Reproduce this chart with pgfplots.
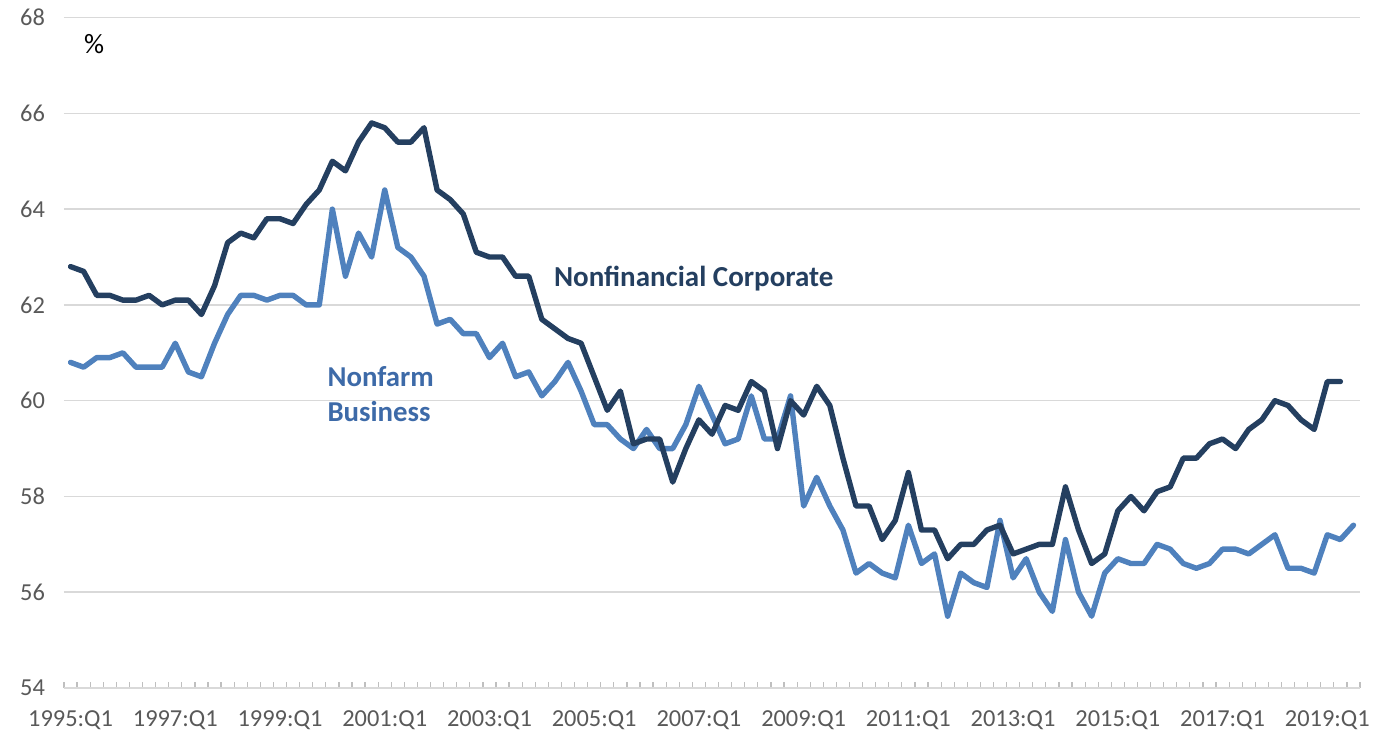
\documentclass[border=0pt]{standalone}
\usepackage{fontspec}
\setmainfont{Carlito}
\usepackage{pgfplots}
\usepackage{pgfplotstable}
\pgfplotsset{compat=1.18}

\definecolor{nfc}{HTML}{243F60}
\definecolor{nfb}{HTML}{4F81BD}
\definecolor{nfbtext}{HTML}{3D6AA8}
\definecolor{gridgray}{HTML}{D9D9D9}
\definecolor{tickgray}{HTML}{BFBFBF}
\definecolor{labelgray}{HTML}{595959}

% quarter index 0 = 1995:Q1
\pgfplotstableread{
q v
0 62.8
1 62.7
2 62.2
3 62.2
4 62.1
5 62.1
6 62.2
7 62.0
8 62.1
9 62.1
10 61.8
11 62.4
12 63.3
13 63.5
14 63.4
15 63.8
16 63.8
17 63.7
18 64.1
19 64.4
20 65.0
21 64.8
22 65.4
23 65.8
24 65.7
25 65.4
26 65.4
27 65.7
28 64.4
29 64.2
30 63.9
31 63.1
32 63.0
33 63.0
34 62.6
35 62.6
36 61.7
37 61.5
38 61.3
39 61.2
40 60.5
41 59.8
42 60.2
43 59.1
44 59.2
45 59.2
46 58.3
47 59.0
48 59.6
49 59.3
50 59.9
51 59.8
52 60.4
53 60.2
54 59.0
55 60.0
56 59.7
57 60.3
58 59.9
59 58.8
60 57.8
61 57.8
62 57.1
63 57.5
64 58.5
65 57.3
66 57.3
67 56.7
68 57.0
69 57.0
70 57.3
71 57.4
72 56.8
73 56.9
74 57.0
75 57.0
76 58.2
77 57.3
78 56.6
79 56.8
80 57.7
81 58.0
82 57.7
83 58.1
84 58.2
85 58.8
86 58.8
87 59.1
88 59.2
89 59.0
90 59.4
91 59.6
92 60.0
93 59.9
94 59.6
95 59.4
96 60.4
97 60.4
}\nfcdata

\pgfplotstableread{
q v
0 60.8
1 60.7
2 60.9
3 60.9
4 61.0
5 60.7
6 60.7
7 60.7
8 61.2
9 60.6
10 60.5
11 61.2
12 61.8
13 62.2
14 62.2
15 62.1
16 62.2
17 62.2
18 62.0
19 62.0
20 64.0
21 62.6
22 63.5
23 63.0
24 64.4
25 63.2
26 63.0
27 62.6
28 61.6
29 61.7
30 61.4
31 61.4
32 60.9
33 61.2
34 60.5
35 60.6
36 60.1
37 60.4
38 60.8
39 60.2
40 59.5
41 59.5
42 59.2
43 59.0
44 59.4
45 59.0
46 59.0
47 59.5
48 60.3
49 59.7
50 59.1
51 59.2
52 60.1
53 59.2
54 59.2
55 60.1
56 57.8
57 58.4
58 57.8
59 57.3
60 56.4
61 56.6
62 56.4
63 56.3
64 57.4
65 56.6
66 56.8
67 55.5
68 56.4
69 56.2
70 56.1
71 57.5
72 56.3
73 56.7
74 56.0
75 55.6
76 57.1
77 56.0
78 55.5
79 56.4
80 56.7
81 56.6
82 56.6
83 57.0
84 56.9
85 56.6
86 56.5
87 56.6
88 56.9
89 56.9
90 56.8
91 57.0
92 57.2
93 56.5
94 56.5
95 56.4
96 57.2
97 57.1
98 57.4
}\nfbdata

\begin{document}
\begin{tikzpicture}
\begin{axis}[
    name=ax,
    scale only axis,
    width=648pt, height=335.2pt,
    xmin=-0.5, xmax=98.5,
    ymin=54, ymax=68,
    ytick={54,56,...,68},
    xtick={0,8,...,96},
    xticklabels={1995:Q1,1997:Q1,1999:Q1,2001:Q1,2003:Q1,2005:Q1,2007:Q1,2009:Q1,2011:Q1,2013:Q1,2015:Q1,2017:Q1,2019:Q1},
    minor xtick={-0.5,0.5,...,98.5},
    axis x line*=bottom,
    axis y line*=left,
    x axis line style={draw=gridgray, line width=0.75pt, -},
    y axis line style={draw=none},
    ymajorgrids,
    major grid style={draw=gridgray, line width=0.75pt},
    major x tick style={draw=none},
    major y tick style={draw=none},
    minor x tick style={draw=tickgray, line width=0.6pt},
    minor tick length=3.2pt,
    tick align=inside,
    tick label style={font=\fontsize{12.2}{14}\selectfont, text=labelgray},
    yticklabel style={xshift=-6pt},
    xticklabel style={yshift=-8pt},
    /pgf/number format/assume math mode=true,
    clip=false,
]
\addplot[nfb, line width=2.7pt, line join=round, line cap=round] table[x=q, y=v] {\nfbdata};
\addplot[nfc, line width=2.7pt, line join=round, line cap=round] table[x=q, y=v] {\nfcdata};

\node[font=\fontsize{14}{16}\selectfont] at (axis cs:1.8,67.45) {\%};
\node[font=\bfseries\fontsize{14.5}{16}\selectfont, text=nfc] at (axis cs:47.6,62.54) {Nonfinancial Corporate};
\node[font=\bfseries\fontsize{14.4}{17.5}\selectfont, text=nfbtext, align=left, anchor=west, inner sep=0pt] at (axis cs:19.6,60.14) {Nonfarm\\Business};
\end{axis}
\pgfresetboundingbox
\path[use as bounding box] ([xshift=-32pt,yshift=-23.5pt]ax.south west) rectangle ([xshift=6.5pt,yshift=8.8pt]ax.north east);
\end{tikzpicture}
\end{document}
